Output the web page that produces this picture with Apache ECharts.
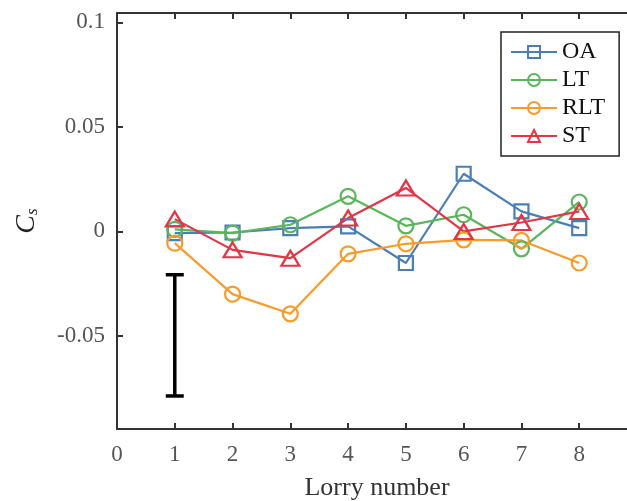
<!DOCTYPE html>
<html>
<head>
<meta charset="utf-8">
<script src="https://cdn.jsdelivr.net/npm/echarts@6/dist/echarts.min.js"></script>
<style>
  html, body { margin: 0; padding: 0; background: #fff; }
  #chart { width: 627px; height: 501px; }
</style>
</head>
<body>
<div id="chart"></div>
<script>
// Side-force coefficient per lorry position for each configuration
const lorries = [1, 2, 3, 4, 5, 6, 7, 8];
const oaValues  = [-0.0008, -0.0005, 0.0016, 0.0024, -0.0151, 0.0276, 0.0096, 0.0016];
const ltValues  = [0.0010, -0.0008, 0.0032, 0.0168, 0.0027, 0.0080, -0.0083, 0.0141];
const rltValues = [-0.0056, -0.0300, -0.0394, -0.0107, -0.0059, -0.0040, -0.0043, -0.0151];
const stValues  = [0.0059, -0.0088, -0.0128, 0.0064, 0.0208, 0.0000, 0.0043, 0.0096];
// Uncertainty bar drawn at lorry 1: [x, low, high]
const errorBar = [[1, -0.0787, -0.0207]];
const yTickValues = [-0.05, 0, 0.05, 0.1];

const FONT = 'Liberation Serif';
const AXIS = '#333';
const LABEL = '#555';

function pairs(vals) { return lorries.map((x, i) => [x, vals[i]]); }

function lineSeries(name, vals, color, symbol, size) {
  return {
    name: name,
    type: 'line',
    data: pairs(vals),
    symbol: symbol,
    symbolSize: size,
    showAllSymbol: true,
    lineStyle: { color: color, width: 2.2 },
    itemStyle: { color: 'rgba(255,255,255,0)', borderColor: color, borderWidth: 2.2 },
    emphasis: { disabled: true },
    z: 3
  };
}

const chart = echarts.init(document.getElementById('chart'), null, { renderer: 'canvas' });

chart.setOption({
  animation: false,
  backgroundColor: '#fff',
  // the plot box runs past the right edge of the canvas
  grid: { left: 117, width: 520, top: 13, height: 416, containLabel: false, outerBoundsMode: 'none' },
  xAxis: [
    {
      type: 'value', min: 0, max: 9, interval: 1,
      name: 'Lorry number', nameLocation: 'middle', nameGap: 46,
      nameTextStyle: { fontFamily: FONT, fontSize: 26, color: '#333' },
      axisLine: { onZero: false, lineStyle: { color: AXIS, width: 2 } },
      axisTick: { inside: true, length: 6, lineStyle: { color: AXIS, width: 2 } },
      axisLabel: { fontFamily: FONT, fontSize: 23, color: LABEL, margin: 14 },
      splitLine: { show: false }
    },
    {
      type: 'value', min: 0, max: 9, interval: 1, position: 'top',
      axisLine: { onZero: false, lineStyle: { color: AXIS, width: 2 } },
      axisTick: { inside: true, length: 6, lineStyle: { color: AXIS, width: 2 } },
      axisLabel: { show: false },
      splitLine: { show: false }
    }
  ],
  yAxis: [
    {
      type: 'value', min: -0.0945, max: 0.1045,
      name: '{c|C}{s|s}', nameLocation: 'middle', nameGap: 76, nameRotate: 90,
      nameTextStyle: {
        fontFamily: FONT, color: '#222',
        rich: {
          c: { fontFamily: FONT, fontSize: 28, fontStyle: 'italic', color: '#222' },
          s: { fontFamily: FONT, fontSize: 17, fontStyle: 'italic', color: '#222', verticalAlign: 'bottom', padding: [10, 0, 0, 0] }
        }
      },
      axisLine: { onZero: false, lineStyle: { color: AXIS, width: 2 } },
      axisTick: { inside: true, length: 6, customValues: yTickValues, lineStyle: { color: AXIS, width: 2 } },
      axisLabel: { fontFamily: FONT, fontSize: 23, color: LABEL, margin: 12, customValues: yTickValues },
      splitLine: { show: false }
    },
    {
      type: 'value', min: -0.0945, max: 0.1045, position: 'right',
      axisLine: { onZero: false, lineStyle: { color: AXIS, width: 2 } },
      axisTick: { show: false },
      axisLabel: { show: false },
      splitLine: { show: false }
    }
  ],
  legend: {
    orient: 'vertical',
    left: 501, top: 32,
    padding: [8, 14, 8, 9],
    itemWidth: 46, itemHeight: 15, itemGap: 4,
    borderColor: '#222', borderWidth: 1.5,
    backgroundColor: '#fff',
    textStyle: { fontFamily: FONT, fontSize: 24, color: '#111' },
    data: ['OA', 'LT', 'RLT', 'ST']
  },
  series: [
    {
      type: 'custom',
      name: 'uncertainty',
      data: errorBar,
      renderItem: function (params, api) {
        const x = api.value(0);
        const lo = api.coord([x, api.value(1)]);
        const hi = api.coord([x, api.value(2)]);
        const half = 9;
        const style = { stroke: '#000', lineWidth: 3.5 };
        return {
          type: 'group',
          children: [
            { type: 'line', shape: { x1: lo[0], y1: lo[1], x2: hi[0], y2: hi[1] }, style: style },
            { type: 'line', shape: { x1: lo[0] - half, y1: lo[1], x2: lo[0] + half, y2: lo[1] }, style: style },
            { type: 'line', shape: { x1: hi[0] - half, y1: hi[1], x2: hi[0] + half, y2: hi[1] }, style: style }
          ]
        };
      },
      z: 2
    },
    lineSeries('OA', oaValues, '#4a7fb5', 'rect', 14),
    lineSeries('LT', ltValues, '#5ab55c', 'circle', 15),
    lineSeries('RLT', rltValues, '#f99b2b', 'circle', 15),
    lineSeries('ST', stValues, '#e23547', 'triangle', [18, 15])
  ]
});
</script>
</body>
</html>
